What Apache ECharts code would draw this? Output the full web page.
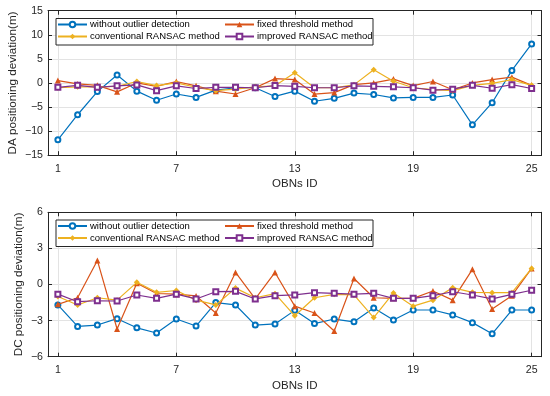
<!DOCTYPE html>
<html>
<head>
<meta charset="utf-8">
<script src="https://cdn.jsdelivr.net/npm/echarts@6/dist/echarts.min.js"></script>
<style>html,body{margin:0;padding:0;background:#fff}#c{width:550px;height:396px}</style>
</head>
<body>
<div id="c"></div>
<script>
const obnIds = [1,2,3,4,5,6,7,8,9,10,11,12,13,14,15,16,17,18,19,20,21,22,23,24,25];
const xTicks = [1,7,13,19,25];
const seriesNames = ['without outlier detection','fixed threshold method','conventional RANSAC method','improved RANSAC method'];

const daWithout  = [-11.8,-6.6,-1.8,1.65,-1.7,-3.6,-2.3,-3.0,-1.5,-1.0,-1.0,-2.8,-1.7,-3.8,-3.2,-2.1,-2.4,-3.1,-3.0,-3.0,-2.5,-8.7,-4.1,2.6,8.1];
const daFixed    = [0.5,-0.2,-0.5,-1.85,0.0,-0.7,0.3,-0.6,-1.7,-2.3,-1.0,0.9,0.7,-2.3,-2.0,-0.35,0.0,0.8,-0.55,0.3,-1.4,0.0,0.7,1.2,-0.5];
const daConv     = [-1.0,-0.8,-0.8,-0.7,0.3,-0.55,0.0,-0.9,-1.6,-1.3,-0.8,-0.6,2.1,-1.0,-1.0,-0.4,2.75,0.35,-1.0,-1.4,-1.6,-0.5,-0.1,0.7,-0.5];
const daImproved = [-0.9,-0.5,-0.9,-0.6,-0.4,-1.6,-0.6,-1.15,-0.9,-0.9,-1.0,-0.55,-0.7,-1.0,-1.0,-0.6,-0.7,-0.8,-1.0,-1.5,-1.3,-0.5,-1.1,-0.35,-1.15];

const dcWithout  = [-1.7,-3.48,-3.37,-2.84,-3.6,-4.03,-2.87,-3.45,-1.5,-1.7,-3.37,-3.28,-2.15,-3.25,-2.87,-3.1,-1.95,-2.95,-2.12,-2.12,-2.53,-3.17,-4.1,-2.12,-2.12];
const dcFixed    = [-1.65,-1.1,2.0,-3.7,0.1,-0.75,-0.8,-0.95,-2.37,1.0,-1.2,1.0,-1.8,-2.37,-3.86,0.5,-1.1,-1.15,-1.15,-0.54,-1.3,1.26,-2.03,-0.93,1.34];
const dcConv     = [-1.0,-1.7,-1.1,-1.3,0.18,-0.65,-0.5,-1.3,-1.7,-0.3,-1.1,-0.76,-2.6,-1.1,-0.82,-0.87,-2.75,-0.7,-1.8,-1.3,-0.26,-0.65,-0.68,-0.68,1.34];
const dcImproved = [-0.8,-1.43,-1.35,-1.37,-0.87,-1.15,-0.8,-1.2,-0.6,-0.57,-1.2,-0.93,-0.87,-0.68,-0.73,-0.8,-0.73,-1.15,-1.15,-0.93,-0.6,-0.87,-1.2,-0.82,-0.48];

const colors = ['#0072BD','#D95319','#EDB120','#7E2F8E'];
const symbols = ['emptyCircle','triangle','diamond','emptyRect'];
const symbolSizes = [5,6,6,5];
const FONT = '"Liberation Sans", Arial, Helvetica, sans-serif';
const AX = '#262626';

const pair = arr => arr.map((v,i)=>[obnIds[i], v]);
const minusFmt = v => String(v).replace('-', '\u2212');

function makeSeries(data, gi) {
  return data.map((d, k) => ({
    name: seriesNames[k], type: 'line', xAxisIndex: gi*2, yAxisIndex: gi*2,
    data: pair(d), symbol: symbols[k], symbolSize: symbolSizes[k],
    itemStyle: {color: colors[k], borderWidth: 1.1},
    lineStyle: {color: colors[k], width: 1.2},
    emphasis: {disabled: true}, z: 3 + k
  }));
}

const grids = [
  {left: 48, right: 8.5, top: 10.7, height: 144.5, outerBoundsMode: 'none', containLabel: false},
  {left: 48, right: 8.5, top: 212.3, height: 144.4, outerBoundsMode: 'none', containLabel: false}
];
const yDefs = [
  {min: -15, max: 15, interval: 5, name: 'DA positioning deviation(m)', gap: 29},
  {min: -6, max: 6, interval: 3, name: 'DC positioning deviation(m)', gap: 23}
];

const xAxes = [], yAxes = [];
grids.forEach((g, gi) => {
  xAxes.push({
    type: 'value', gridIndex: gi, position: 'bottom', min: 0.5, max: 25.5,
    name: 'OBNs ID', nameLocation: 'middle', nameGap: 23, nameMoveOverlap: false,
    nameTextStyle: {fontFamily: FONT, fontSize: 11.5, color: AX},
    axisLine: {show: true, onZero: false, lineStyle: {color: AX, width: 1}},
    axisTick: {show: true, inside: true, length: 4, customValues: xTicks, lineStyle: {color: AX}},
    axisLabel: {show: true, customValues: xTicks, margin: 8, fontFamily: FONT, fontSize: 10.6, color: AX},
    splitLine: {show: true, lineStyle: {color: '#e3e3e3', width: 1}}
  });
  xAxes.push({
    type: 'value', gridIndex: gi, position: 'top', min: 0.5, max: 25.5,
    axisLine: {show: true, onZero: false, lineStyle: {color: AX, width: 1}},
    axisTick: {show: true, inside: true, length: 4, customValues: xTicks, lineStyle: {color: AX}},
    axisLabel: {show: false}, splitLine: {show: false}
  });
  const yd = yDefs[gi];
  yAxes.push({
    type: 'value', gridIndex: gi, position: 'left', min: yd.min, max: yd.max, interval: yd.interval,
    name: yd.name, nameLocation: 'middle', nameGap: yd.gap, nameRotate: 90, nameMoveOverlap: false,
    nameTextStyle: {fontFamily: FONT, fontSize: 11.7, color: AX},
    axisLine: {show: true, onZero: false, lineStyle: {color: AX, width: 1}},
    axisTick: {show: true, inside: true, length: 4, lineStyle: {color: AX}},
    axisLabel: {show: true, margin: 5, fontFamily: FONT, fontSize: 10.6, color: AX, formatter: minusFmt},
    splitLine: {show: true, lineStyle: {color: '#e3e3e3', width: 1}}
  });
  yAxes.push({
    type: 'value', gridIndex: gi, position: 'right', min: yd.min, max: yd.max, interval: yd.interval,
    axisLine: {show: true, onZero: false, lineStyle: {color: AX, width: 1}},
    axisTick: {show: true, inside: true, length: 4, lineStyle: {color: AX}},
    axisLabel: {show: false}, splitLine: {show: false}
  });
});

const legendTops = [19.5, 221];
const legends = [];
const graphics = [];
legendTops.forEach((t, gi) => {
  [[0, 2, 57], [1, 3, 224]].forEach(([a, b, left]) => {
    legends.push({
      orient: 'vertical', left: left, top: t, padding: 0, itemGap: 2,
      itemWidth: 29, itemHeight: 7, z: 12,
      data: [seriesNames[a], seriesNames[b]],
      textStyle: {fontFamily: FONT, fontSize: 9.5, color: '#000', padding: [0,0,0,-2]},
      selectedMode: false
    });
  });
  graphics.push({
    type: 'rect', z: 11, left: 55.5, top: t - 1.5,
    shape: {width: 317, height: 26.5},
    style: {fill: '#fff', stroke: AX, lineWidth: 1}
  });
});

const chart = echarts.init(document.getElementById('c'), null, {renderer: 'canvas'});
chart.setOption({
  animation: false,
  backgroundColor: '#fff',
  grid: grids,
  xAxis: xAxes,
  yAxis: yAxes,
  legend: legends,
  graphic: graphics,
  series: [...makeSeries([daWithout, daFixed, daConv, daImproved], 0),
           ...makeSeries([dcWithout, dcFixed, dcConv, dcImproved], 1)]
});
</script>
</body>
</html>
